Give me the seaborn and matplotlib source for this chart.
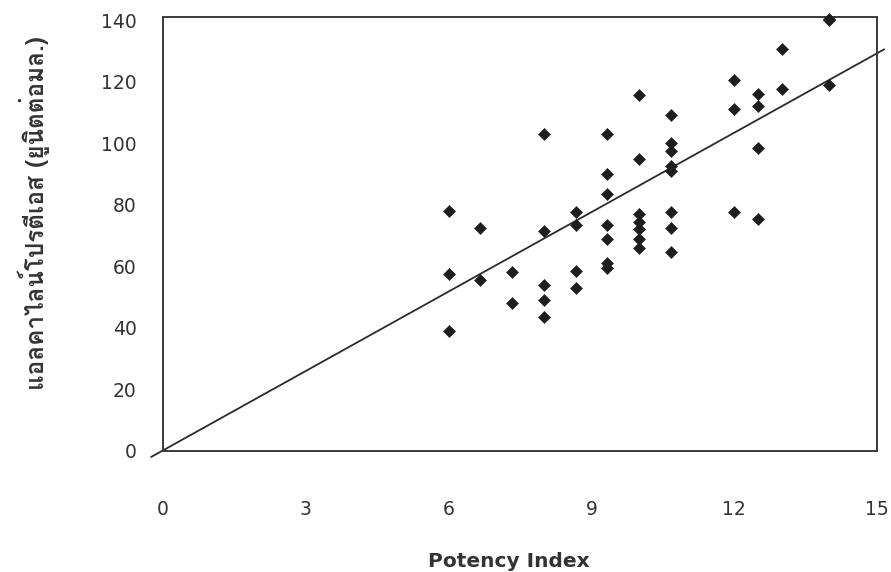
import numpy as np
import pandas as pd
import matplotlib
matplotlib.use("Agg")
import matplotlib.pyplot as plt
import seaborn as sns
from matplotlib import font_manager
from matplotlib.ft2font import FT2Font

# ---------------- data ----------------
potency_index = [
    6.0, 6.0, 6.0,
    6.67, 6.67,
    7.33, 7.33,
    8.0, 8.0, 8.0, 8.0, 8.0,
    8.67, 8.67, 8.67, 8.67,
    9.33, 9.33, 9.33, 9.33, 9.33, 9.33, 9.33,
    10.0, 10.0, 10.0, 10.0, 10.0, 10.0, 10.0,
    10.67, 10.67, 10.67, 10.67, 10.67, 10.67, 10.67, 10.67,
    12.0, 12.0, 12.0,
    12.5, 12.5, 12.5, 12.5,
    13.0, 13.0,
    14.0, 14.0, 14.0,
]
protease_activity = [
    78, 57.5, 39,
    72.5, 55.5,
    58, 48,
    103, 71.5, 54, 49, 43.5,
    77.5, 73.5, 58.5, 53,
    103, 90, 83.5, 73.5, 69, 61, 59.5,
    115.5, 95, 77, 74.5, 72, 69, 66,
    109, 100, 97.5, 92.5, 91, 77.5, 72.5, 64.5,
    120.5, 111, 77.5,
    116, 112, 98.5, 75.5,
    130.5, 117.5,
    140.5, 140, 119,
]
trend_x = [-0.25, 15.15]
trend_slope = 8.6
trend_intercept = 0.2
x_ticks = [0, 3, 6, 9, 12, 15]
y_ticks = [0, 20, 40, 60, 80, 100, 120, 140]
x_label = "Potency Index"
y_label = "แอลคาไลน์โปรตีเอส (ยูนิตต่อมล.)"

# ---------------- fonts ----------------
thai_family = None
for f in font_manager.fontManager.ttflist:
    try:
        if 0x0E01 in FT2Font(f.fname).get_charmap():
            thai_family = f.name
            break
    except Exception:
        pass

sns.set_theme(style="white")
plt.rcParams["font.family"] = ["DejaVu Sans"]

df = pd.DataFrame({"x": potency_index, "y": protease_activity})
trend_df = pd.DataFrame({
    "x": trend_x,
    "y": [trend_intercept + trend_slope * v for v in trend_x],
})

fig = plt.figure(figsize=(8.91, 5.72), dpi=100)
ax = fig.add_axes([163 / 891, 1 - 451 / 572, 714 / 891, 434 / 572])

sns.lineplot(data=trend_df, x="x", y="y", ax=ax, color="#2b2b2b",
             linewidth=1.3)
for ln in ax.lines:
    ln.set_clip_on(False)

sns.scatterplot(data=df, x="x", y="y", ax=ax, marker="D", s=38,
                color="#1e1e1e", edgecolor="#1e1e1e", linewidth=0.4,
                clip_on=False, zorder=3)

ax.set_xlim(0, 15)
ax.set_ylim(0, 141)
ax.set_xticks(x_ticks)
ax.set_yticks(y_ticks)
ax.set_xticklabels([str(v) for v in x_ticks])
ax.set_yticklabels([str(v) for v in y_ticks])

for sp in ax.spines.values():
    sp.set_visible(True)
    sp.set_color("#3a3a3a")
    sp.set_linewidth(1.4)

ax.tick_params(axis="both", which="major", direction="out", length=3,
               width=0.8, color="#888888", labelcolor="#333333",
               labelsize=13.5)
ax.tick_params(axis="x", pad=32)
ax.tick_params(axis="y", pad=16)

ax.set_xlabel(x_label, fontsize=14.5, fontweight="bold", color="#333333")
ax.xaxis.set_label_coords(0.485, -0.232)
ax.xaxis.label.set_va("top")

yfam = [thai_family, "DejaVu Sans"] if thai_family else ["DejaVu Sans"]
ax.set_ylabel(y_label, fontsize=17.5, fontweight="bold", color="#333333",
              family=yfam)
ax.yaxis.label.set_va("center")
ax.yaxis.set_label_coords(-0.181, 0.548)

fig.savefig("out.png", dpi=100)
